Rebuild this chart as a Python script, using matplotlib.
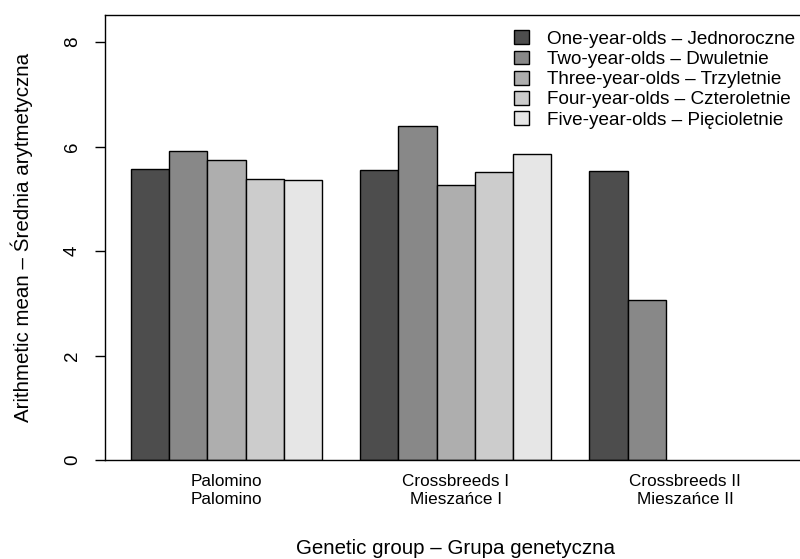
import numpy as np
import matplotlib
matplotlib.use("Agg")
import matplotlib.pyplot as plt

plt.rcParams['font.family'] = ['Liberation Sans', 'DejaVu Sans']

groups = ["Palomino\nPalomino", "Crossbreeds I\nMieszańce I", "Crossbreeds II\nMieszańce II"]
series = ["One-year-olds – Jednoroczne", "Two-year-olds – Dwuletnie",
          "Three-year-olds – Trzyletnie", "Four-year-olds – Czteroletnie",
          "Five-year-olds – Pięcioletnie"]
one_year = [5.57, 5.56, 5.53]
two_year = [5.92, 6.39, 3.06]
three_year = [5.74, 5.26, 0]
four_year = [5.38, 5.52, 0]
five_year = [5.37, 5.86, 0]
values = [one_year, two_year, three_year, four_year, five_year]
colors = ["#4D4D4D", "#888888", "#AEAEAE", "#CCCCCC", "#E6E6E6"]
yticks = [0, 2, 4, 6, 8]

W, H = 800, 559
fig = plt.figure(figsize=(W / 100, H / 100), dpi=100)
left, right, top, bottom = 105, 806.4, 15, 460
ax = fig.add_axes([left / W, 1 - bottom / H, (right - left) / W, (bottom - top) / H])

n_s = len(series)
for i, (vals, c, lab) in enumerate(zip(values, colors, series)):
    xs = 1 + np.arange(len(groups)) * (n_s + 1) + i
    v = np.array(vals, dtype=float)
    mask = v > 0
    ax.bar(xs[mask], v[mask], width=1.0, align='edge', color=c,
           edgecolor='black', linewidth=1.0, label=lab)

centers = 1 + np.arange(len(groups)) * (n_s + 1) + n_s / 2
ax.set_xticks(centers)
ax.set_xticklabels(groups, fontsize=12.3, linespacing=1.3)
ax.tick_params(axis='x', length=0, pad=10)
ax.set_xlim(0.32, 18.68)
ax.set_ylim(0, 8.52)
ax.set_yticks(yticks)
ax.set_yticklabels([str(t) for t in yticks], fontsize=13.5, rotation=90, va='center')
ax.tick_params(axis='y', length=7.2, width=1.0, pad=10)

for s in ['left', 'top', 'bottom']:
    ax.spines[s].set_linewidth(1.0)
ax.spines['right'].set_visible(False)

ax.set_ylabel("Arithmetic mean – Średnia arytmetyczna", fontsize=14.8, va='center')
ax.yaxis.set_label_coords((22 - left) / (right - left), 0.5)
ax.set_xlabel("Genetic group – Grupa genetyczna", fontsize=14.8, va='center')
ax.xaxis.set_label_coords(0.5, -(548 - bottom) / (bottom - top))

ax.legend(loc='upper left', bbox_to_anchor=(505 / W, 1 - 21 / H),
          bbox_transform=fig.transFigure, frameon=False, fontsize=13.6,
          handlelength=0.75, handleheight=0.75, handletextpad=0.95,
          labelspacing=0.14, borderpad=0)

fig.savefig("out.png", dpi=100)
